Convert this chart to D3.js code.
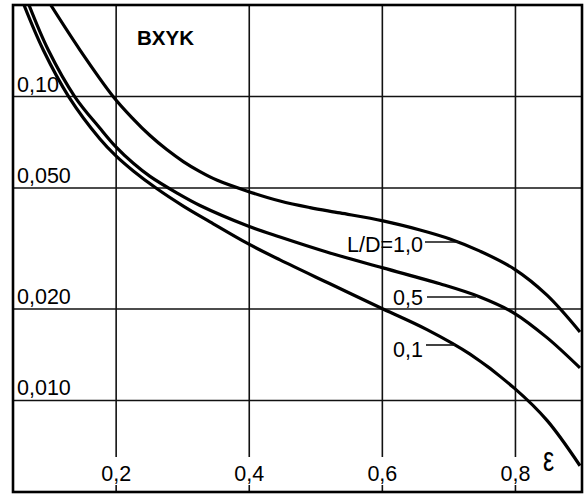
<!DOCTYPE html>
<html>
<head>
<meta charset="utf-8">
<script src="https://cdn.jsdelivr.net/npm/d3@7"></script>
<style>
  html, body { margin: 0; padding: 0; background: #fff; }
  svg { display: block; }
  text { font-family: "Liberation Sans", Arial, sans-serif; fill: #000; }
</style>
</head>
<body>
<svg id="chart" width="586" height="495"></svg>
<script>
// ---- data ----
const xTicks = [0.2, 0.4, 0.6, 0.8];
const xTickLabels = ["0,2", "0,4", "0,6", "0,8"];
const yTicks = [0.10, 0.05, 0.02, 0.01];
const yTickLabels = ["0,10", "0,050", "0,020", "0,010"];

const seriesNames = ["L/D=1,0", "0,5", "0,1"];

// L/D = 1.0
const eps10 = [0.1017, 0.1457, 0.1957, 0.2258, 0.2509, 0.2760, 0.3009, 0.3260, 0.3511, 0.3962, 0.4462, 0.4913, 0.5364, 0.6010, 0.6566, 0.7016, 0.7467, 0.7978, 0.8474, 0.8970];
const val10 = [0.2000, 0.1422, 0.0999, 0.0843, 0.0744, 0.0669, 0.0611, 0.0566, 0.0531, 0.0489, 0.0453, 0.0431, 0.0414, 0.0390, 0.0364, 0.0340, 0.0310, 0.0271, 0.0222, 0.0168];

// L/D = 0.5
const eps05 = [0.0690, 0.0980, 0.1382, 0.1757, 0.1993, 0.2258, 0.2509, 0.2910, 0.3260, 0.3981, 0.4462, 0.5164, 0.6010, 0.6866, 0.7467, 0.7978, 0.8474, 0.8970];
const val05 = [0.2000, 0.1422, 0.0996, 0.0786, 0.0684, 0.0603, 0.0546, 0.0482, 0.0438, 0.0375, 0.0345, 0.0308, 0.0273, 0.0242, 0.0219, 0.0194, 0.0161, 0.0128];

// L/D = 0.1
const eps01 = [0.0615, 0.0905, 0.1291, 0.1757, 0.1993, 0.2258, 0.2609, 0.3009, 0.3410, 0.3981, 0.4462, 0.5213, 0.6010, 0.6671, 0.7317, 0.7978, 0.8474, 0.8970];
const val01 = [0.2000, 0.1422, 0.0996, 0.0725, 0.0639, 0.0569, 0.0498, 0.0436, 0.0387, 0.0328, 0.0290, 0.0242, 0.0200, 0.0171, 0.0142, 0.0110, 0.0086, 0.0061];

// ---- drawing ----
(function () {
const svg = d3.select("#chart");
const pLeft = 13, pRight = 582, pTop = 5, pBottom = 492;

const x = d3.scaleLinear().domain([0.045, 0.9]).range([pLeft, pRight]);
const y = d3.scaleLog().domain([0.005, 0.2]).range([pBottom, pTop]);

svg.append("defs").append("clipPath").attr("id", "plotClip")
  .append("rect").attr("x", pLeft).attr("y", pTop)
  .attr("width", pRight - pLeft).attr("height", pBottom - pTop);

// horizontal grid
svg.append("g").selectAll("line").data(yTicks).join("line")
  .attr("x1", pLeft).attr("x2", pRight)
  .attr("y1", d => y(d)).attr("y2", d => y(d))
  .attr("stroke", "#111").attr("stroke-width", 1.6);

// vertical grid (broken for the tick labels)
const vg = svg.append("g");
vg.selectAll("line.main").data(xTicks).join("line").attr("class", "main")
  .attr("x1", d => x(d)).attr("x2", d => x(d))
  .attr("y1", pTop).attr("y2", 457)
  .attr("stroke", "#111").attr("stroke-width", 1.6);
vg.selectAll("line.stub").data(xTicks).join("line").attr("class", "stub")
  .attr("x1", d => x(d)).attr("x2", d => x(d))
  .attr("y1", 485).attr("y2", pBottom)
  .attr("stroke", "#111").attr("stroke-width", 1.6);

// tick labels
svg.append("g").selectAll("text").data(yTicks).join("text")
  .attr("x", 17).attr("y", d => y(d) - 5)
  .attr("font-size", 21.5)
  .text((d, i) => yTickLabels[i]);

svg.append("g").selectAll("text").data(xTicks).join("text")
  .attr("x", d => x(d)).attr("y", 481)
  .attr("text-anchor", "middle")
  .attr("font-size", 21.5)
  .text((d, i) => xTickLabels[i]);

// curves
const line = d3.line()
  .x(d => x(d[0])).y(d => y(d[1]))
  .curve(d3.curveCatmullRom.alpha(0.5));

const series = [
  eps10.map((e, i) => [e, val10[i]]),
  eps05.map((e, i) => [e, val05[i]]),
  eps01.map((e, i) => [e, val01[i]])
];

svg.append("g").attr("clip-path", "url(#plotClip)")
  .selectAll("path").data(series).join("path")
  .attr("d", line)
  .attr("fill", "none")
  .attr("stroke", "#000")
  .attr("stroke-width", 3.2)
  .attr("stroke-linejoin", "round");

// curve labels with leader lines
const ann = [
  { name: seriesNames[0], tx: 423, ty: 252, lx1: 425, ly: 242, lx2: 459 },
  { name: seriesNames[1], tx: 423, ty: 305, lx1: 427, ly: 297, lx2: 476 },
  { name: seriesNames[2], tx: 423, ty: 357, lx1: 426, ly: 345, lx2: 455 }
];
const ag = svg.append("g");
ag.selectAll("text").data(ann).join("text")
  .attr("x", d => d.tx).attr("y", d => d.ty)
  .attr("text-anchor", "end")
  .attr("font-size", 21.5)
  .text(d => d.name);
ag.selectAll("line").data(ann).join("line")
  .attr("x1", d => d.lx1).attr("x2", d => d.lx2)
  .attr("y1", d => d.ly).attr("y2", d => d.ly)
  .attr("stroke", "#111").attr("stroke-width", 1.6);

// title label
svg.append("text")
  .attr("x", 137).attr("y", 45)
  .attr("font-size", 20.5).attr("font-weight", "bold")
  .text("BXYK");

// epsilon axis symbol
svg.append("text")
  .attr("transform", "translate(543,471) scale(1,1.4)")
  .attr("font-size", 25)
  .text("ε");

// frame
svg.append("rect")
  .attr("x", pLeft).attr("y", pTop)
  .attr("width", pRight - pLeft).attr("height", pBottom - pTop)
  .attr("fill", "none").attr("stroke", "#000").attr("stroke-width", 2.6);
})();
</script>
</body>
</html>
